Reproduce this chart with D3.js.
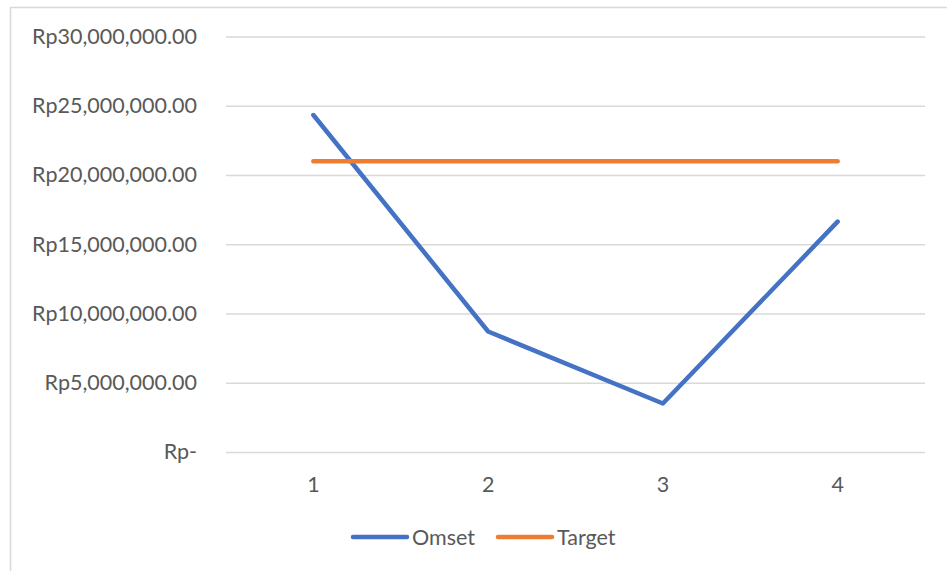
<!DOCTYPE html>
<html>
<head>
<meta charset="utf-8">
<script src="https://cdn.jsdelivr.net/npm/d3@7"></script>
<style>
  body { margin: 0; background: #fff; }
  text { font-family: Lato, "Noto Sans", sans-serif; fill: #595959; }
</style>
</head>
<body>
<div id="chart-area"></div>
<script>
// data
const categories = ["1", "2", "3", "4"];
const omset = [24330000, 8700000, 3500000, 16630000];
const target = [21000000, 21000000, 21000000, 21000000];
const yTicks = [0, 5000000, 10000000, 15000000, 20000000, 25000000, 30000000];
const seriesNames = ["Omset", "Target"];
const seriesColors = ["#4472C4", "#ED7D31"];

const W = 947, H = 571;
const plot = {left: 226, right: 925, top: 36.5, bottom: 452};
const fontSize = "21.5px";

const svg = d3.select("#chart-area").append("svg")
  .attr("width", W).attr("height", H);

// chart border
svg.append("rect")
  .attr("x", 10.5).attr("y", 7.5)
  .attr("width", 945).attr("height", 580)
  .attr("fill", "white")
  .attr("stroke", "#d9d9d9")
  .attr("stroke-width", 1.5);

const x = d3.scaleBand()
  .domain(categories)
  .range([plot.left, plot.right]);

const y = d3.scaleLinear()
  .domain([0, 30000000])
  .range([plot.bottom, plot.top]);

const fmt = d => d === 0 ? "Rp-" : "Rp" + d3.format(",.2f")(d);

// gridlines + y labels
const yAxis = d3.axisLeft(y)
  .tickValues(yTicks)
  .tickSize(-(plot.right - plot.left))
  .tickPadding(29)
  .tickFormat(fmt);

const yg = svg.append("g")
  .attr("transform", "translate(" + plot.left + ",0)")
  .call(yAxis);
yg.select(".domain").remove();
yg.selectAll(".tick line").attr("stroke", "#d9d9d9").attr("stroke-width", 1.3);
yg.selectAll(".tick text")
  .attr("font-size", fontSize)
  .style("font-family", "Lato, 'Noto Sans', sans-serif")
  .attr("fill", "#595959");

// x labels
const xAxis = d3.axisBottom(x).tickSize(0).tickPadding(24.5);
const xg = svg.append("g")
  .attr("transform", "translate(0," + plot.bottom + ")")
  .call(xAxis);
xg.select(".domain").remove();
xg.selectAll(".tick text")
  .attr("font-size", fontSize)
  .style("font-family", "Lato, 'Noto Sans', sans-serif")
  .attr("fill", "#595959");

// lines
const line = d3.line()
  .x((d, i) => x(categories[i]) + x.bandwidth() / 2)
  .y(d => y(d));

[omset, target].forEach((s, i) => {
  svg.append("path")
    .datum(s)
    .attr("d", line)
    .attr("fill", "none")
    .attr("stroke", seriesColors[i])
    .attr("stroke-width", 4.5)
    .attr("stroke-linecap", "round")
    .attr("stroke-linejoin", "round");
});

// legend
const legendX = [353, 498];
seriesNames.forEach((name, i) => {
  const lg = svg.append("g").attr("transform", "translate(" + legendX[i] + ",537)");
  lg.append("line")
    .attr("x1", 0).attr("x2", 54)
    .attr("stroke", seriesColors[i])
    .attr("stroke-width", 4.5)
    .attr("stroke-linecap", "round");
  lg.append("text")
    .attr("x", 59).attr("y", 7.5)
    .attr("font-size", fontSize)
    .text(name);
});
</script>
</body>
</html>
